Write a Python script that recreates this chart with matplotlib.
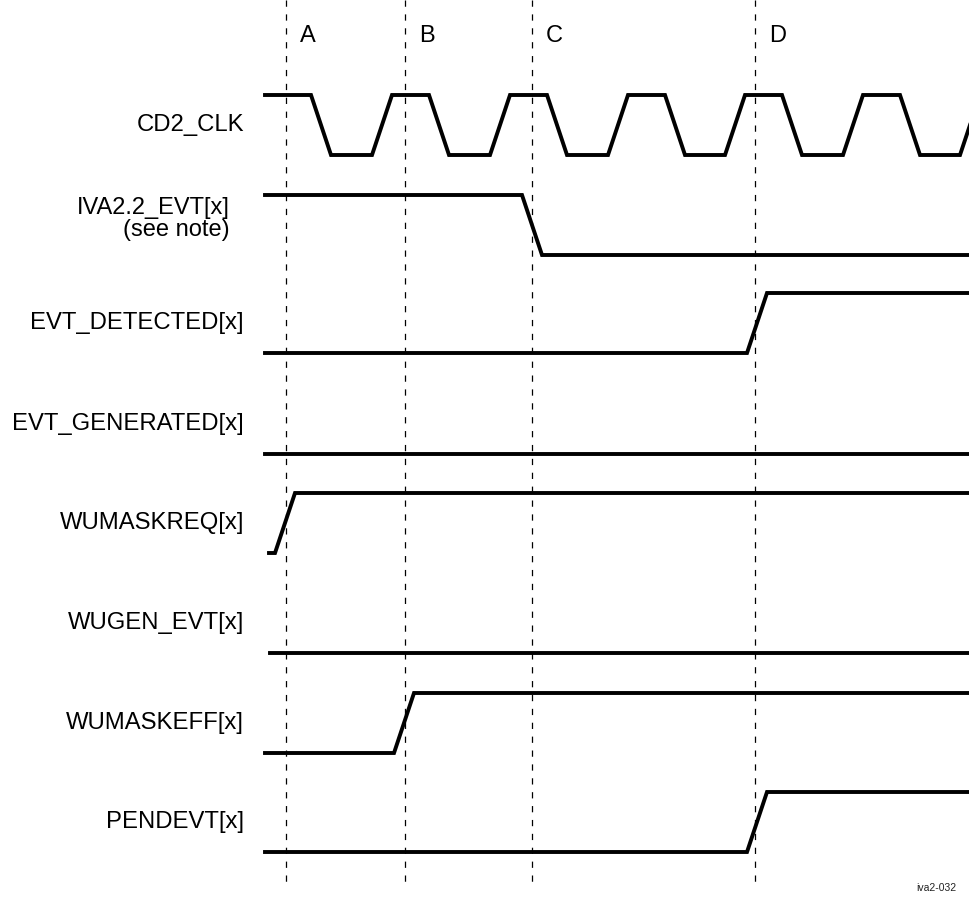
import matplotlib
matplotlib.use("Agg")
import matplotlib.pyplot as plt

plt.rcParams['font.family'] = ['Liberation Sans', 'DejaVu Sans']
plt.rcParams['lines.scale_dashes'] = False

# Timing diagram data (time axis in diagram units, 0..969)
t_start, t_end = 265, 969
edge_w = 20  # transition width

signal_names = ['CD2_CLK', 'IVA2.2_EVT[x]\n(see note)', 'EVT_DETECTED[x]', 'EVT_GENERATED[x]',
                'WUMASKREQ[x]', 'WUGEN_EVT[x]', 'WUMASKEFF[x]', 'PENDEVT[x]']
row_low = [155, 255, 353, 454, 553, 653, 753, 852]
swing = 60

# clock: falling and rising edge start times
clk_fall = [311, 429, 547, 665, 782, 900]
clk_rise = [372, 490, 608, 725, 843, 960]

# other signals: (start time, initial level, [edge times])
sig_start = [265, 265, 265, 265, 269, 270, 265, 265]
sig_init = [1, 1, 0, 0, 0, 0, 0, 0]
sig_edges = [None, [522], [747], [], [275], [], [394], [747]]

markers = ['A', 'B', 'C', 'D']
marker_t = [286, 405, 532, 755]


def waveform(start, level, edges, low, end=t_end):
    xs, ys = [start], [low - swing * level]
    for e in sorted(edges):
        xs.append(e)
        ys.append(low - swing * level)
        level = 1 - level
        xs.append(e + edge_w)
        ys.append(low - swing * level)
    if xs[-1] < end:
        xs.append(end)
        ys.append(low - swing * level)
    return xs, ys


fig = plt.figure(figsize=(9.69, 9.05), dpi=100)
ax = fig.add_axes([0, 0, 1, 1])
ax.set_xlim(0, 969)
ax.set_ylim(905, 0)
ax.axis('off')

# dashed reference lines and their letters
for m, t in zip(markers, marker_t):
    ax.plot([t, t], [0, 882], color='black', lw=0.9, dashes=(4.5, 5.5))
    ax.text(t + 14, 36, m, fontsize=17, ha='left', va='center')

for i, name in enumerate(signal_names):
    low = row_low[i]
    if i == 0:
        edges = clk_fall + clk_rise
    else:
        edges = sig_edges[i]
    xs, ys = waveform(sig_start[i], sig_init[i], edges, low)
    ax.plot(xs, ys, color='black', lw=2.8, solid_joinstyle='miter', clip_on=True)
    if '\n' in name:
        ax.text(230, low - 36, name, fontsize=17, ha='right', va='center', multialignment='right',
                linespacing=1.05)
    else:
        ax.text(244, low - 30, name, fontsize=17.2, ha='right', va='center')

ax.text(956, 888, 'iva2-032', fontsize=7.5, ha='right', va='center', color='#222222')

plt.savefig('out.png', dpi=100)
